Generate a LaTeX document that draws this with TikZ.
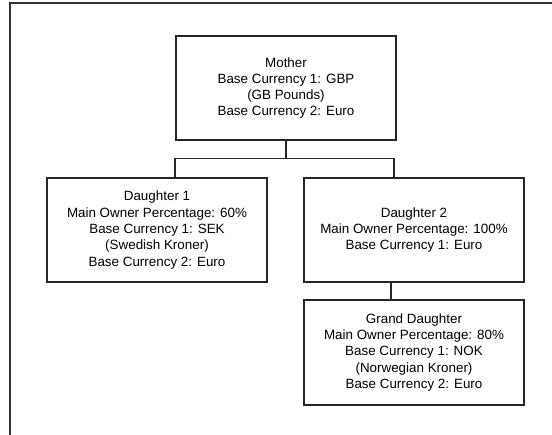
\documentclass[tikz,border=0pt]{standalone}
\usepackage{fontspec}
\setmainfont{Liberation Sans}
\begin{document}
\begin{tikzpicture}[x=1pt,y=-1pt,
  boxline/.style={draw=black!85,line width=1.1pt},
  entity/.style={boxline,rectangle,align=center,inner sep=0pt,
    font=\fontsize{13.4}{16.3}\selectfont},
  link/.style={draw=black!85,line width=1.1pt}]
\useasboundingbox (0,0) rectangle (552,435);
% outer frame (top and left edges only)
\coordinate (ftl) at (10,3);
\coordinate (ftr) at (552,3);
\coordinate (fbl) at (10,435);
\draw[draw=black!80,line width=1.4pt] (ftr) -- (ftl) -- (fbl);
% boxes
\node[entity,minimum width=220pt,minimum height=104pt] (mother) at (286,88)
  {Mother\\Base Currency 1: GBP\\(GB Pounds)\\Base Currency 2: Euro};
\node[entity,minimum width=220pt,minimum height=104pt] (d1) at (157,230)
  {Daughter 1\\Main Owner Percentage: 60\%\\Base Currency 1: SEK\\(Swedish Kroner)\\Base Currency 2: Euro};
\node[entity,minimum width=220pt,minimum height=104pt] (d2) at (414,230)
  {Daughter 2\\Main Owner Percentage: 100\%\\Base Currency 1: Euro};
\node[entity,minimum width=220pt,minimum height=105pt] (gd) at (414,352.5)
  {Grand Daughter\\Main Owner Percentage: 80\%\\Base Currency 1: NOK\\(Norwegian Kroner)\\Base Currency 2: Euro};
% connectors
\coordinate (bus) at (286,158.5);
\draw[link] (mother.south) -- (bus);
\draw[link] (bus) -| (d1.north -| 175,0);
\draw[link] (bus) -| (d2.north -| 394,0);
\draw[link] (d2.south -| 391,0) -- (gd.north -| 391,0);
\end{tikzpicture}
\end{document}
